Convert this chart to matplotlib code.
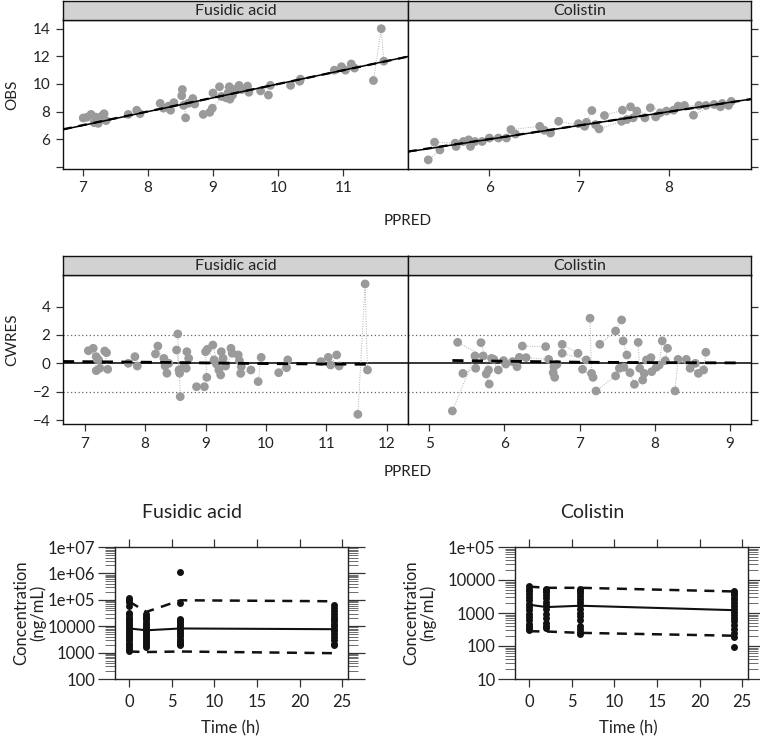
import matplotlib
matplotlib.use('Agg')
import matplotlib.pyplot as plt
import numpy as np
from matplotlib.ticker import FixedLocator, LogLocator, NullFormatter, FixedFormatter

plt.rcParams['font.family'] = ['Lato', 'DejaVu Sans']

# ---------------- data ----------------
# Row 1: OBS vs PPRED
fa_ppred = [7.01, 7.07, 7.13, 7.18, 7.20, 7.24, 7.30, 7.33, 7.36, 7.70, 7.83, 7.88,
            8.19, 8.24, 8.32, 8.35, 8.40, 8.52, 8.53, 8.55, 8.58, 8.62, 8.69, 8.72,
            8.85, 8.95, 8.99, 9.00, 9.10, 9.13, 9.20, 9.23, 9.25, 9.26, 9.30, 9.33,
            9.40, 9.44, 9.53, 9.55, 9.73, 9.85, 9.88, 10.19, 10.33, 10.34, 10.86,
            10.97, 11.03, 11.12, 11.17, 11.46, 11.58, 11.62]
fa_obs = [7.54, 7.60, 7.80, 7.20, 7.60, 7.15, 7.70, 7.85, 7.35, 7.80, 8.10, 7.85,
          8.60, 8.25, 8.40, 8.10, 8.65, 9.15, 9.60, 8.45, 7.55, 8.60, 8.95, 8.55,
          7.80, 7.95, 8.25, 9.35, 9.80, 9.10, 9.00, 9.35, 9.80, 8.90, 9.20, 9.60,
          9.90, 9.60, 9.85, 9.40, 9.50, 9.20, 9.90, 9.90, 10.20, 10.35, 11.00,
          11.25, 11.00, 11.45, 11.15, 10.25, 14.00, 11.65]
fa_obs_id = [1, 2, 3, 1, 4, 2, 5, 3, 4, 6, 7, 6,
             8, 9, 8, 10, 9, 11, 12, 11, 12, 13, 14, 13,
             15, 16, 15, 17, 18, 16, 19, 17, 20, 19, 21, 18,
             22, 21, 23, 22, 24, 25, 24, 26, 27, 26, 28,
             29, 28, 30, 29, 31, 31, 31]

co_ppred = [5.32, 5.39, 5.45, 5.62, 5.63, 5.71, 5.77, 5.79, 5.84, 5.92, 6.00, 6.10,
            6.19, 6.24, 6.29, 6.56, 6.61, 6.68, 6.77, 6.99, 7.06, 7.08, 7.14, 7.18,
            7.22, 7.28, 7.47, 7.48, 7.53, 7.57, 7.60, 7.64, 7.73, 7.79, 7.85, 7.90,
            7.97, 8.05, 8.10, 8.17, 8.27, 8.33, 8.41, 8.50, 8.57, 8.59, 8.66, 8.69]
co_obs = [4.51, 5.79, 5.23, 5.72, 5.48, 5.84, 5.96, 5.48, 5.84, 5.84, 6.09, 6.09,
          6.09, 6.70, 6.38, 6.94, 6.65, 6.45, 7.30, 7.13, 6.94, 7.23, 8.08, 7.06,
          6.75, 7.72, 7.30, 8.11, 7.43, 8.35, 7.55, 8.04, 7.55, 8.28, 7.62, 7.91,
          8.04, 8.11, 8.40, 8.45, 7.74, 8.45, 8.45, 8.52, 8.35, 8.59, 8.45, 8.74]
co_obs_id = [1, 2, 1, 2, 3, 4, 3, 5, 4, 6, 5, 7,
             6, 8, 7, 8, 9, 9, 10, 11, 10, 12, 12, 11,
             13, 14, 13, 14, 15, 16, 15, 17, 16, 18, 17, 19,
             18, 20, 19, 21, 22, 20, 23, 22, 21, 24, 23, 24]

# Row 2: CWRES vs PPRED
fa_res_ppred = [7.06, 7.14, 7.19, 7.23, 7.19, 7.25, 7.33, 7.36, 7.38, 7.72, 7.83, 7.87,
                8.17, 8.21, 8.31, 8.33, 8.36, 8.39, 8.52, 8.54, 8.56, 8.58, 8.57, 8.64,
                8.68, 8.69, 8.72, 8.85, 8.98, 9.02, 9.00, 9.03, 9.12, 9.14, 9.18, 9.22,
                9.25, 9.26, 9.29, 9.33, 9.42, 9.44, 9.54, 9.56, 9.58, 9.59, 9.75, 9.87,
                9.92, 10.21, 10.36, 10.34, 10.91, 11.03, 11.07, 11.17, 11.21, 11.52,
                11.64, 11.68]
fa_cwres = [0.89, 1.06, 0.47, 0.24, -0.52, -0.35, 0.87, 0.75, -0.42, 0.00, 0.47, -0.19,
            0.66, 1.22, 0.35, -0.19, -0.70, 0.00, 0.94, 2.07, -0.47, -2.35, -0.70, -0.24,
            -0.35, 0.82, 0.35, -1.65, -1.65, -0.99, 0.82, 0.99, 1.29, 0.24, -0.05, -0.47,
            -0.82, 0.82, 0.35, -0.19, 1.06, 0.71, 0.59, 0.19, -0.71, -0.24, -0.47, -1.29,
            0.42, -0.66, 0.24, -0.31, 0.12, 0.42, -0.12, 0.59, -0.19, -3.60,
            5.60, -0.47]
fa_res_id = [1, 2, 1, 3, 2, 3, 4, 5, 4, 6, 7, 6,
             8, 9, 8, 10, 9, 10, 11, 12, 11, 12, 13, 13,
             14, 14, 15, 16, 16, 17, 17, 18, 19, 18, 20, 19,
             21, 20, 21, 22, 23, 22, 24, 23, 25, 24, 25, 26,
             26, 27, 27, 28, 29, 29, 30, 30, 31, 32,
             32, 32]
fa_smooth_x = [6.64, 8.0, 9.0, 10.0, 11.0, 11.68]
fa_smooth_y = [0.13, 0.08, 0.03, -0.02, -0.05, -0.07]

co_res_ppred = [5.31, 5.38, 5.45, 5.61, 5.62, 5.69, 5.72, 5.76, 5.79, 5.80, 5.83, 5.86,
                5.92, 5.99, 6.02, 6.11, 6.17, 6.20, 6.24, 6.29, 6.55, 6.59, 6.66, 6.65,
                6.67, 6.70, 6.77, 6.77, 6.98, 7.04, 7.09, 7.14, 7.16, 7.18, 7.22, 7.27,
                7.48, 7.48, 7.53, 7.56, 7.58, 7.59, 7.63, 7.67, 7.73, 7.78, 7.80, 7.84,
                7.86, 7.89, 7.95, 7.96, 8.02, 8.06, 8.10, 8.14, 8.17, 8.27, 8.31, 8.42,
                8.47, 8.54, 8.58, 8.65, 8.68]
co_cwres = [-3.36, 1.48, -0.71, 0.52, -0.35, 1.46, 0.52, -0.75, -0.47, -1.46, 0.35, 0.28,
            -0.47, 0.19, -0.05, 0.12, -0.24, 0.42, 1.22, 0.40, 1.18, 0.28, -0.24, -0.66,
            -0.99, -0.07, 1.34, 0.71, 0.71, -0.42, 0.24, 3.18, -0.71, -0.99, -1.95, 1.34,
            -0.89, 2.28, -0.35, 3.06, 1.58, -0.28, 0.59, -0.66, -1.48, 1.48, -0.35, -1.18,
            -0.71, 0.24, 0.40, -0.59, -0.28, -0.12, 1.58, 0.19, 1.06, -1.95, 0.28, 0.28,
            -0.35, 0.00, -0.71, -0.47, 0.78]
co_res_id = [1, 2, 3, 1, 3, 4, 2, 5, 4, 5, 6, 7,
             6, 7, 8, 8, 9, 9, 10, 11, 10, 11, 12, 12,
             13, 13, 14, 15, 14, 16, 15, 17, 17, 16, 18, 19,
             18, 19, 20, 19, 21, 20, 21, 22, 22, 23, 23, 24,
             24, 25, 25, 26, 26, 27, 27, 28, 28, 29, 29, 30,
             30, 31, 29, 31, 31]
co_smooth_x = [5.31, 6.0, 7.0, 8.0, 9.18]
co_smooth_y = [0.20, 0.15, 0.08, 0.05, 0.03]

# Row 3: concentration-time (VPC)
fa_t_obs = ([0] * 24 + [2] * 18 + [6] * 17 + [24] * 16)
fa_c_obs = ([1200, 1400, 1700, 2000, 2400, 2900, 3400, 4000, 4800, 5700, 6800, 8000,
             9500, 11000, 13000, 16000, 19000, 23000, 28000, 33000, 60000, 80000, 100000, 120000] +
            [1600, 1900, 2300, 2700, 3200, 3800, 4500, 5300, 6300, 7500, 8900, 10500,
             12500, 15000, 18000, 21000, 25000, 30000] +
            [1900, 2300, 2800, 3400, 4100, 5000, 6000, 7200, 8700, 10500, 12500, 15000,
             17500, 19500, 77000, 1150000, 2100] +
            [1900, 2200, 3000, 4000, 5000, 6500, 8000, 10000, 12500, 15500, 19000, 23000,
             29000, 37000, 48000, 63000])
fa_t_pred = [0, 2, 6, 24]
fa_median = [8200, 7000, 8200, 7700]
fa_p95 = [84000, 35000, 96000, 88000]
fa_p05 = [1100, 1050, 1100, 950]

co_t_obs = ([0] * 16 + [2] * 13 + [6] * 15 + [24] * 17)
co_c_obs = ([300, 340, 400, 480, 600, 750, 950, 1200, 1500, 1900, 2400, 3000, 3700,
             4500, 5500, 6500] +
            [350, 400, 500, 700, 950, 1300, 1700, 2200, 2800, 3500, 4300, 5000, 5500] +
            [230, 270, 330, 400, 600, 800, 1000, 1300, 1700, 2100, 2700, 3300, 4000,
             4800, 5500] +
            [93, 190, 250, 330, 430, 560, 700, 880, 1100, 1350, 1650, 2000, 2400, 2900,
             3400, 4000, 4600])
co_t_pred = [0, 2, 6, 24]
co_median = [1780, 1510, 1660, 1220]
co_p95 = [6300, 5800, 5800, 4500]
co_p05 = [280, 275, 250, 205]

# ---------------- figure ----------------
W, H = 760, 737
fig = plt.figure(figsize=(W / 100, H / 100), dpi=100)
TXT = '#222222'
GREY_PT = '#9a9a9a'


def ax_px(x0, y0, x1, y1):
    return fig.add_axes([x0 / W, 1 - y1 / H, (x1 - x0) / W, (y1 - y0) / H])


def strip(x0, y0, x1, y1, label):
    s = ax_px(x0, y0, x1, y1)
    s.set_facecolor('#d2d2d2')
    s.set_xticks([])
    s.set_yticks([])
    for sp in s.spines.values():
        sp.set_linewidth(1.0)
        sp.set_color('#111111')
    s.text(0.5, 0.45, label, ha='center', va='center', fontsize=11.5, color=TXT,
           transform=s.transAxes)
    return s


def style_panel(ax):
    for sp in ax.spines.values():
        sp.set_linewidth(1.0)
        sp.set_color('#111111')
    ax.tick_params(direction='out', length=5, width=0.9, color='#333333',
                   labelsize=11, labelcolor=TXT, pad=4)


def draw_scatter(ax, xs, ys, ids):
    xs = np.asarray(xs); ys = np.asarray(ys); ids = np.asarray(ids)
    for i in np.unique(ids):
        m = ids == i
        if m.sum() > 1:
            ax.plot(xs[m], ys[m], ls=(0, (1, 1.5)), lw=0.7, color='#b0b0b0', zorder=1)
    ax.scatter(xs, ys, s=40, color=GREY_PT, edgecolors='none', zorder=2)


# Row 1
row1_y0, row1_y1 = 20, 169
ylim1 = (3.85, 14.63)
axA = ax_px(63, row1_y0, 408, row1_y1)
axB = ax_px(408, row1_y0, 751, row1_y1)
strip(63, 1, 408, row1_y0, 'Fusidic acid')
strip(408, 1, 751, row1_y0, 'Colistin')

for ax, xs, ys, ids, xl in [(axA, fa_ppred, fa_obs, fa_obs_id, (6.70, 11.99)),
                            (axB, co_ppred, co_obs, co_obs_id, (5.095, 8.91))]:
    style_panel(ax)
    draw_scatter(ax, xs, ys, ids)
    ax.set_xlim(*xl)
    ax.set_ylim(*ylim1)
    ax.plot(xl, xl, color='black', lw=1.1, zorder=3)
    ax.plot([xl[0], xl[1]], [xl[0] + 0.02, xl[1] - 0.01], color='black', lw=1.6,
            ls=(0, (4, 3)), zorder=3)

axA.set_xticks([7, 8, 9, 10, 11])
axA.set_yticks([4, 6, 8, 10, 12, 14])
axA.set_yticklabels(['', '6', '8', '10', '12', '14'])
axB.set_xticks([6, 7, 8])
axB.set_yticks([4, 6, 8, 10, 12, 14])
axB.yaxis.tick_right()
axB.set_yticklabels([])
fig.text(12 / W, 1 - 95 / H, 'OBS', rotation=90, ha='center', va='center',
         fontsize=11, color=TXT)
fig.text(408 / W, 1 - 221 / H, 'PPRED', ha='center', va='center', fontsize=11, color=TXT)

# Row 2
row2_y0, row2_y1 = 275, 424
ylim2 = (-4.28, 6.23)
axC = ax_px(63, row2_y0, 408, row2_y1)
axD = ax_px(408, row2_y0, 751, row2_y1)
strip(63, 256, 408, row2_y0, 'Fusidic acid')
strip(408, 256, 751, row2_y0, 'Colistin')

for ax, xs, ys, ids, xl, sx, sy in [
        (axC, fa_res_ppred, fa_cwres, fa_res_id, (6.64, 12.35), fa_smooth_x, fa_smooth_y),
        (axD, co_res_ppred, co_cwres, co_res_id, (4.72, 9.28), co_smooth_x, co_smooth_y)]:
    style_panel(ax)
    ax.axhline(0, color='black', lw=1.1, zorder=0.5)
    ax.axhline(2, color='#666666', lw=0.9, ls=(0, (1, 2)), zorder=0.5)
    ax.axhline(-2, color='#666666', lw=0.9, ls=(0, (1, 2)), zorder=0.5)
    draw_scatter(ax, xs, ys, ids)
    ax.plot(sx, sy, color='black', lw=2.0, ls=(0, (4, 3)), zorder=3)
    ax.set_xlim(*xl)
    ax.set_ylim(*ylim2)

axC.set_xticks([7, 8, 9, 10, 11, 12])
axC.set_yticks([-4, -2, 0, 2, 4])
axD.set_xticks([5, 6, 7, 8, 9])
axD.set_yticks([-4, -2, 0, 2, 4])
axD.yaxis.tick_right()
axD.set_yticklabels([])
fig.text(12 / W, 1 - 340 / H, 'CWRES', rotation=90, ha='center', va='center',
         fontsize=11, color=TXT)
fig.text(408 / W, 1 - 472 / H, 'PPRED', ha='center', va='center', fontsize=11, color=TXT)

# Row 3
def vpc_panel(x0, x1, t_obs, c_obs, tp, med, p95, p05, ylim, yticks, ylabels,
              title, title_x, ylab_x, xlab_x):
    ax = ax_px(x0, 547, x1, 679)
    for sp in ax.spines.values():
        sp.set_linewidth(1.0)
        sp.set_color('#222222')
    ax.set_yscale('log')
    ax.set_xlim(-1.7, 25.7)
    ax.set_ylim(*ylim)
    ax.plot(t_obs, c_obs, 'o', ms=5, color='#111111', mec='none', zorder=3, clip_on=False)
    ax.plot(tp, med, color='#111111', lw=1.5, zorder=2)
    ax.plot(tp, p95, color='#111111', lw=1.8, ls=(0, (4, 3)), zorder=2)
    ax.plot(tp, p05, color='#111111', lw=1.8, ls=(0, (4, 3)), zorder=2)
    ax.set_xticks([0, 5, 10, 15, 20, 25])
    ax.yaxis.set_major_locator(FixedLocator(yticks))
    ax.yaxis.set_major_formatter(FixedFormatter(ylabels))
    ax.yaxis.set_minor_locator(LogLocator(base=10, subs=np.arange(2, 10), numticks=50))
    ax.yaxis.set_minor_formatter(NullFormatter())
    ax.tick_params(axis='x', which='both', direction='out', length=6, width=0.9,
                   top=True, labeltop=False, labelsize=12, labelcolor=TXT, pad=5,
                   color='#333333')
    ax.tick_params(axis='y', which='major', direction='out', length=12, width=0.9,
                   right=True, labelright=False, labelsize=12, labelcolor=TXT, pad=2,
                   color='#333333')
    ax.tick_params(axis='y', which='minor', direction='out', length=7, width=0.6,
                   right=True, color='#555555')
    fig.text(title_x / W, 1 - 512 / H, title, ha='center', va='center', fontsize=14,
             color=TXT)
    fig.text(ylab_x / W, 1 - 613 / H, 'Concentration\n(ng/mL)', rotation=90,
             ha='center', va='center', fontsize=12, color=TXT, linespacing=1.05)
    fig.text(xlab_x / W, 1 - 728 / H, 'Time (h)', ha='center', va='center', fontsize=12,
             color=TXT)
    return ax


vpc_panel(115, 348, fa_t_obs, fa_c_obs, fa_t_pred, fa_median, fa_p95, fa_p05,
          (100, 1e7), [100, 1000, 1e4, 1e5, 1e6, 1e7],
          ['100', '1000', '10000', '1e+05', '1e+06', '1e+07'],
          'Fusidic acid', 192, 30, 230)
vpc_panel(515, 748, co_t_obs, co_c_obs, co_t_pred, co_median, co_p95, co_p05,
          (10, 1e5), [10, 100, 1000, 1e4, 1e5],
          ['10', '100', '1000', '10000', '1e+05'],
          'Colistin', 592, 420, 628)

fig.savefig('out.png', dpi=100)
